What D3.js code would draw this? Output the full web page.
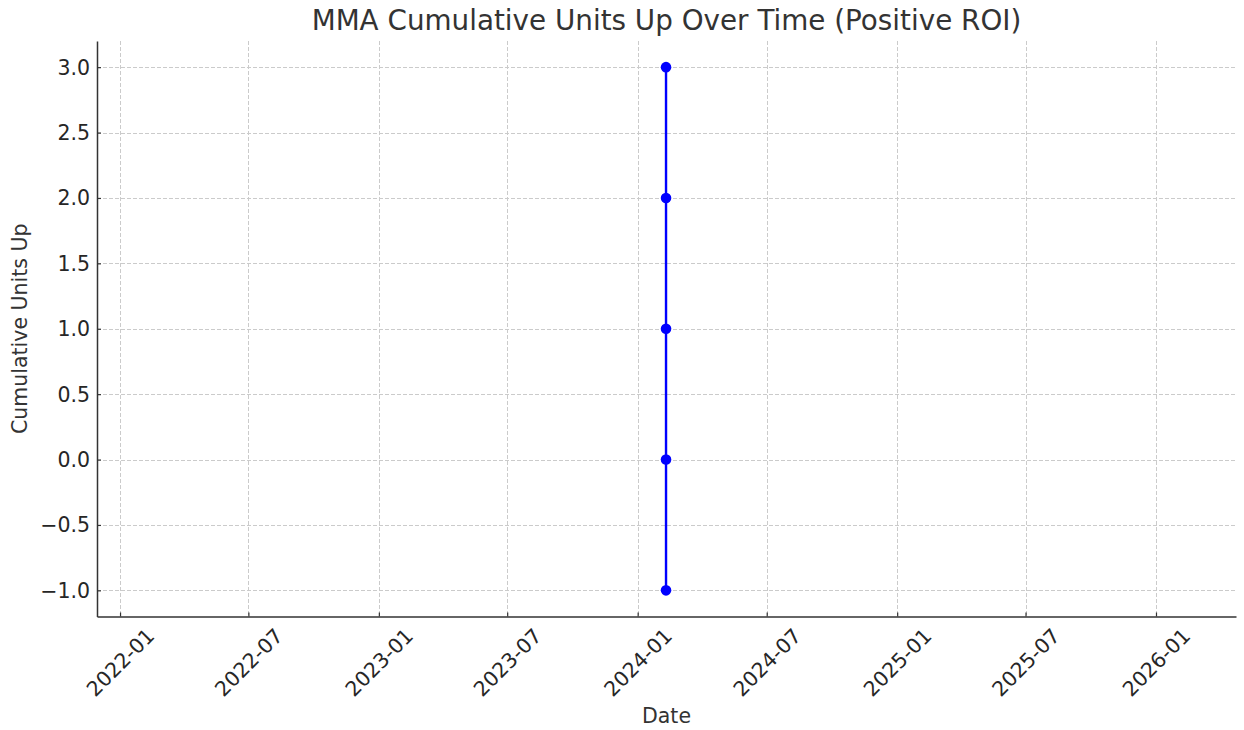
<!DOCTYPE html>
<html>
<head>
<meta charset="utf-8">
<script src="https://cdn.jsdelivr.net/npm/d3@7"></script>
<style>
  html, body { margin: 0; padding: 0; background: #fff; }
  svg { display: block; font-family: "DejaVu Sans", sans-serif; }
</style>
</head>
<body>
<svg id="chart" width="1244" height="730"></svg>
<script>
// ---- data ----
const dates = ["2024-02-10", "2024-02-10", "2024-02-10", "2024-02-10", "2024-02-10"];
const cumulativeUnits = [-1, 0, 1, 2, 3];
const xTickLabels = ["2022-01", "2022-07", "2023-01", "2023-07", "2024-01", "2024-07", "2025-01", "2025-07", "2026-01"];
const yTickValues = [-1.0, -0.5, 0.0, 0.5, 1.0, 1.5, 2.0, 2.5, 3.0];
const xDomain = ["2021-11-29T12:00", "2026-04-23T20:00"];
const yDomain = [-1.2, 3.2];
const title = "MMA Cumulative Units Up Over Time (Positive ROI)";
const xLabel = "Date";
const yLabel = "Cumulative Units Up";

(function () {
// ---- layout ----
const svg = d3.select("#chart");
const mLeft = 97, mRight = 1236, mTop = 41, mBottom = 616.5;
const textColor = "#333";

const parseDay = d3.timeParse("%Y-%m-%d");
const parseMonth = d3.timeParse("%Y-%m");
const parseDT = d3.timeParse("%Y-%m-%dT%H:%M");

const x = d3.scaleTime().domain(xDomain.map(parseDT)).range([mLeft, mRight]);
const y = d3.scaleLinear().domain(yDomain).range([mBottom, mTop]);

const xTicks = xTickLabels.map(parseMonth);
const fmtMonth = d3.timeFormat("%Y-%m");
const fmtY = d3.format(".1f");

// grid
const grid = svg.append("g").attr("stroke", "#cbcbcb").attr("stroke-width", 1).attr("stroke-dasharray", "4,2");
grid.selectAll("line.gx").data(xTicks).join("line").attr("class", "gx")
  .attr("x1", d => Math.round(x(d)) + 0.5).attr("x2", d => Math.round(x(d)) + 0.5)
  .attr("y1", mTop).attr("y2", mBottom);
grid.selectAll("line.gy").data(yTickValues).join("line").attr("class", "gy")
  .attr("x1", mLeft).attr("x2", mRight)
  .attr("y1", d => Math.round(y(d)) + 0.5).attr("y2", d => Math.round(y(d)) + 0.5);

// axes
const xAxis = d3.axisBottom(x).tickValues(xTicks).tickFormat(fmtMonth).tickSizeInner(-4).tickSizeOuter(0).tickPadding(0);
const gx = svg.append("g").attr("transform", `translate(0,${mBottom})`).call(xAxis);
gx.select(".domain").attr("stroke", textColor).attr("stroke-width", 1.5);
gx.selectAll(".tick line").attr("stroke", textColor).attr("stroke-width", 1.2);
gx.selectAll(".tick text")
  .attr("fill", "#262626")
  .attr("font-size", 20.5)
  .attr("font-family", "DejaVu Sans")
  .attr("text-anchor", "middle")
  .attr("dy", null)
  .attr("y", null)
  .attr("dominant-baseline", "central")
  .attr("transform", "translate(0,46) rotate(-45)");

const yAxis = d3.axisLeft(y).tickValues(yTickValues).tickFormat(fmtY).tickSizeInner(-4).tickSizeOuter(0).tickPadding(7);
const gy = svg.append("g").attr("transform", `translate(${mLeft},0)`).call(yAxis);
gy.select(".domain").attr("stroke", textColor).attr("stroke-width", 1.5);
gy.selectAll(".tick line").attr("stroke", textColor).attr("stroke-width", 1.2);
gy.selectAll(".tick text")
  .attr("fill", "#262626")
  .attr("font-size", 20.5)
  .attr("font-family", "DejaVu Sans")
  .attr("x", -7)
  .attr("dy", null)
  .attr("dominant-baseline", "central");

// line + markers
const pts = dates.map((d, i) => ({ date: parseDay(d), v: cumulativeUnits[i] }));
const line = d3.line().x(d => x(d.date)).y(d => y(d.v));
svg.append("path").datum(pts)
  .attr("d", line)
  .attr("fill", "none")
  .attr("stroke", "#0000ff")
  .attr("stroke-width", 2.4);
svg.append("g").selectAll("circle").data(pts).join("circle")
  .attr("cx", d => x(d.date)).attr("cy", d => y(d.v))
  .attr("r", 5.3).attr("fill", "#0000ff");

// title & labels
svg.append("text").attr("x", (mLeft + mRight) / 2).attr("y", 29.5)
  .attr("text-anchor", "middle").attr("font-size", 27.8).attr("fill", textColor).text(title);
svg.append("text").attr("x", (mLeft + mRight) / 2).attr("y", 723)
  .attr("text-anchor", "middle").attr("font-size", 20.5).attr("fill", textColor).text(xLabel);
svg.append("text").attr("transform", `translate(27,${(mTop + mBottom) / 2}) rotate(-90)`)
  .attr("text-anchor", "middle").attr("font-size", 20.5).attr("fill", textColor).text(yLabel);
})();
</script>
</body>
</html>
